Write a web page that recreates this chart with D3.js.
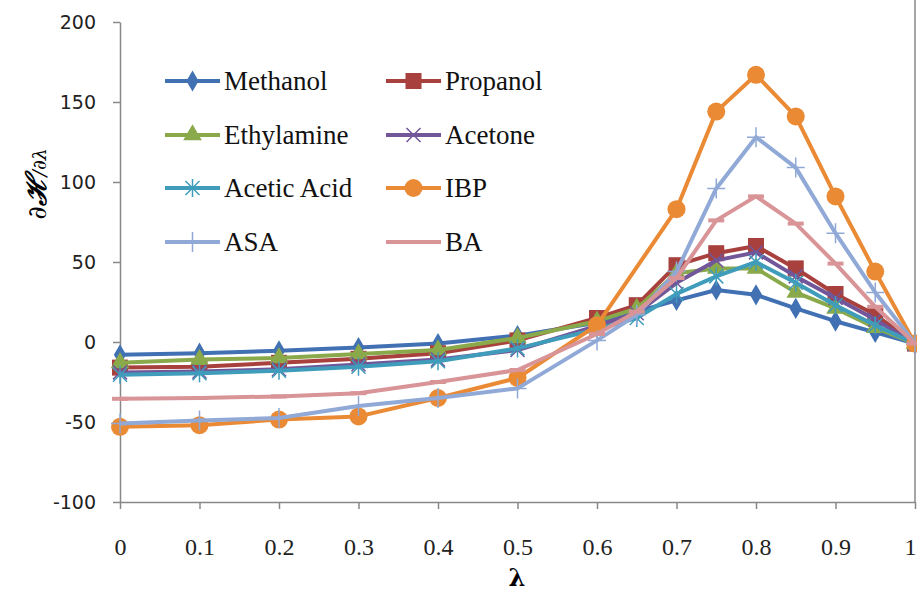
<!DOCTYPE html>
<html>
<head>
<meta charset="utf-8">
<script src="https://cdn.jsdelivr.net/npm/d3@7/dist/d3.min.js"></script>
<style>
body { margin: 0; background: #fff; }
svg { display: block; }
</style>
</head>
<body>
<svg width="917" height="594"></svg>
<script>
var svg = d3.select('svg');

// lambda values (x)
var lambda = [0, 0.1, 0.2, 0.3, 0.4, 0.5, 0.6, 0.65, 0.7, 0.75, 0.8, 0.85, 0.9, 0.95, 1];
var xTicks = [0, 0.1, 0.2, 0.3, 0.4, 0.5, 0.6, 0.7, 0.8, 0.9, 1];
var yTicks = [-100, -50, 0, 50, 100, 150, 200];

var seriesNames = ["Methanol", "Propanol", "Ethylamine", "Acetone", "Acetic Acid", "IBP", "ASA", "BA"];

// values (null = no point)
var methanol   = [-8, -7, -5.5, -3.5, -1, 4, 12, 19, 26, 32.5, 29.5, 21, 13, 6, -1];
var propanol   = [-16, -15.5, -13, -10.5, -7, 1, 15, 23, 48, 55.5, 60, 46, 30, 17, -1];
var ethylamine = [-13, -11, -10, -7.5, -5, 2.5, 13, 21, 43, 46, 46, 31, 21, 9, -1];
var acetone    = [-19, -18.5, -17, -14, -11, -5, 10, 18, 37, 51, 56, 41, 27.5, 14, -1];
var aceticAcid = [-20.5, -19.5, -18, -15.5, -12, -4, 8, 15, 30, 41, 50, 37, 23, 10.5, -1];
var ibp        = [-53, -52, -48.5, -46.5, -35, -22.5, 10.5, null, 83, 144, 167, 141, 91, 44, -1];
var asa        = [-51, -49, -47.5, -40, -35, -29, 1, 17, 44, 96, 128, 109, 68, 31, -1];
var ba         = [-35.5, -35, -34, -32, -25, -17.5, 5, 19, 40, 76, 91, 74, 49, 22, -1];

var allValues = [methanol, propanol, ethylamine, acetone, aceticAcid, ibp, asa, ba];
var colors = ["#4170b3", "#a8403d", "#89a94b", "#71579a", "#3f9dbb", "#ea8a35", "#91a9d6", "#d89497"];
var markers = ["diamond", "square", "triangle", "x", "asterisk", "circle", "plus", "dash"];

var ScaleX = d3.scaleLinear().domain([0, 1]).range([120, 915]);
var ScaleY = d3.scaleLinear().domain([-100, 200]).range([502, 22]);

// axes
var yAxis = svg.append('g')
    .attr('transform', 'translate(120,0)')
    .call(d3.axisLeft(ScaleY).tickValues(yTicks).tickSize(7).tickSizeOuter(0).tickPadding(17)
        .tickFormat(function(d){ return String(d); }));   // plain hyphen like the original
yAxis.selectAll('text')
    .style('font', '19px "DejaVu Sans"')
    .attr('fill', '#222');

var xAxis = svg.append('g')
    .attr('transform', 'translate(0,502)')
    .call(d3.axisBottom(ScaleX).tickValues(xTicks).tickSize(7).tickSizeOuter(0).tickPadding(29)
        .tickFormat(function(d){ return String(+d.toFixed(1)); }));
xAxis.selectAll('text')
    .style('font', '24px "Liberation Serif"')
    .attr('fill', '#222');
// last label sits on the right edge, nudge it in so it isn't clipped
xAxis.selectAll('.tick text').filter(function(d){ return d == 1; }).attr('dx', -5);

svg.selectAll('.domain, .tick line').attr('stroke', '#888').attr('stroke-width', 1.5);

// right border of plot area
svg.append('line')
    .attr('x1', 915).attr('x2', 915)
    .attr('y1', 0).attr('y2', 502)
    .attr('stroke', '#888').attr('stroke-width', 1.5);

// axis titles
svg.append('text')
    .text('λ')
    .attr('x', 517).attr('y', 586)
    .attr('text-anchor', 'middle')
    .style('font', 'bold 24px "DejaVu Serif"');

var yTitle = svg.append('text')
    .attr('transform', 'translate(46,184)rotate(-90)')
    .attr('text-anchor', 'middle')
    .style('font-family', '"DejaVu Serif"')
    .style('font-style', 'italic');
yTitle.append('tspan').text('∂').style('font-size', '26px');
yTitle.append('tspan').text('ℋ').style('font-size', '28px').style('font-weight', 'bold');
yTitle.append('tspan').text('/∂λ').style('font-size', '19px');

// marker drawing
function drawMarker(g, type, color) {
    if (type == 'diamond') {
        g.append('path').attr('d', d3.symbol().type(d3.symbolDiamond).size(130)).attr('fill', color);
    } else if (type == 'square') {
        g.append('rect').attr('x', -8).attr('y', -8).attr('width', 16).attr('height', 16).attr('fill', color);
    } else if (type == 'triangle') {
        g.append('path').attr('d', d3.symbol().type(d3.symbolTriangle).size(150)).attr('fill', color);
    } else if (type == 'circle') {
        g.append('circle').attr('r', 9).attr('fill', color);
    } else if (type == 'x') {
        g.append('path').attr('d', 'M-7,-7L7,7M-7,7L7,-7').attr('stroke', color).attr('stroke-width', 1.5).attr('fill', 'none');
    } else if (type == 'asterisk') {
        g.append('path').attr('d', 'M-7,-7L7,7M-7,7L7,-7M0,-9L0,9').attr('stroke', color).attr('stroke-width', 1.5).attr('fill', 'none');
    } else if (type == 'plus') {
        g.append('path').attr('d', 'M-9,0L9,0M0,-10L0,10').attr('stroke', color).attr('stroke-width', 1.5).attr('fill', 'none');
    } else if (type == 'dash') {
        g.append('path').attr('d', 'M-8,0L8,0').attr('stroke', color).attr('stroke-width', 4).attr('fill', 'none');
    }
}

var line = d3.line()
    .x(function(d){ return ScaleX(d.x); })
    .y(function(d){ return ScaleY(d.y); });

allValues.forEach(function(vals, i){
    var pts = [];
    vals.forEach(function(v, j){
        if (v !== null) pts.push({x: lambda[j], y: v});
    });
    var g = svg.append('g').attr('class', 'series');
    g.append('path')
        .datum(pts)
        .attr('d', line)
        .attr('fill', 'none')
        .attr('stroke', colors[i])
        .attr('stroke-width', 4)
        .attr('stroke-linejoin', 'round');
    pts.forEach(function(p){
        var m = g.append('g').attr('transform', 'translate(' + ScaleX(p.x) + ',' + ScaleY(p.y) + ')');
        drawMarker(m, markers[i], colors[i]);
    });
});

// legend
var legendRows = [81, 135, 188, 242];
var legendCols = [165, 386];
seriesNames.forEach(function(name, i){
    var lx = legendCols[i % 2];
    var ly = legendRows[Math.floor(i / 2)];
    var g = svg.append('g').attr('transform', 'translate(' + lx + ',' + ly + ')');
    g.append('line')
        .attr('x1', 0).attr('x2', 55)
        .attr('y1', 0).attr('y2', 0)
        .attr('stroke', colors[i]).attr('stroke-width', 4);
    if (markers[i] != 'dash') {
        var m = g.append('g').attr('transform', 'translate(27.5,0)');
        drawMarker(m, markers[i], colors[i]);
    }
    g.append('text')
        .text(name)
        .attr('x', 59).attr('y', 0).attr('dy', '0.34em')
        .style('font', '27px "Liberation Serif"')
        .attr('fill', '#111');
});
</script>
</body>
</html>
